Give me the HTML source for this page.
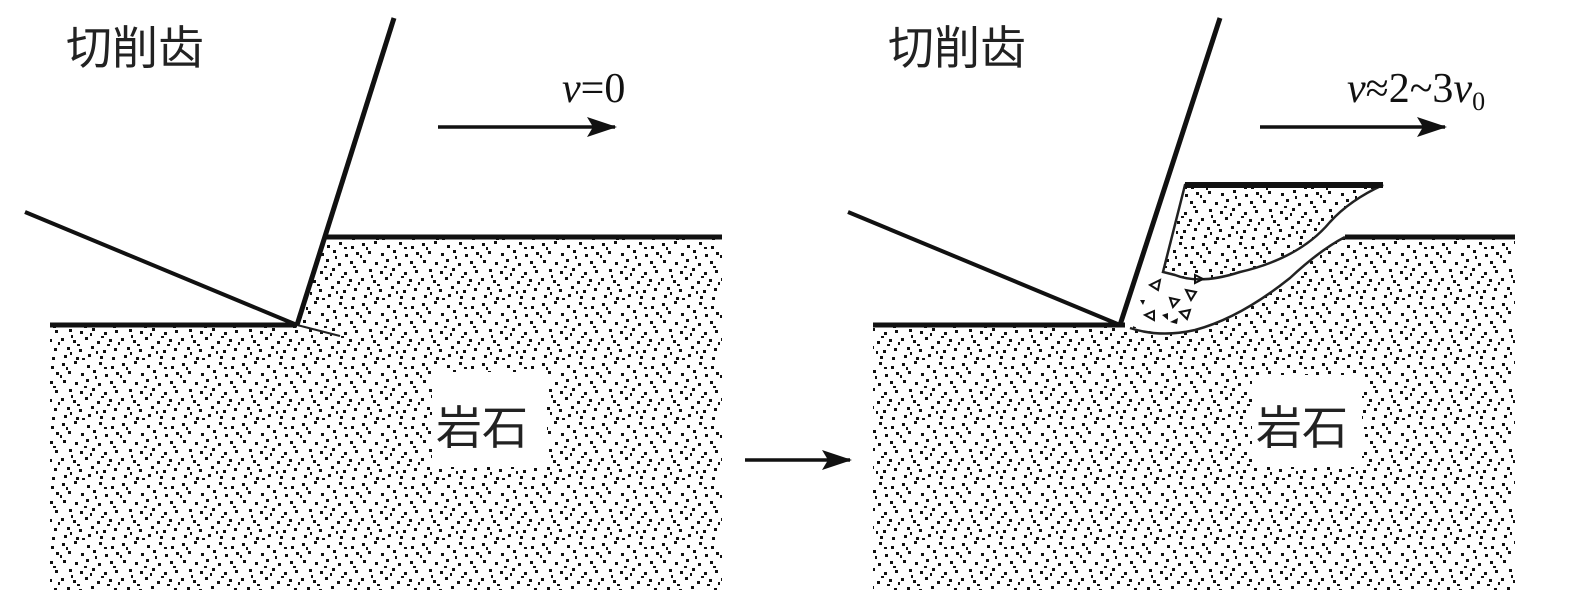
<!DOCTYPE html>
<html><head><meta charset="utf-8"><style>
html,body{margin:0;padding:0;background:#fff;width:1575px;height:600px;overflow:hidden}
svg{display:block}
.cn{font-family:"Liberation Sans","Noto Sans CJK SC",sans-serif;font-size:46px;fill:#222}
.it{font-family:"Liberation Serif",serif;font-size:42px;fill:#111}
</style></head><body>
<svg width="1575" height="600" viewBox="0 0 1575 600" xmlns="http://www.w3.org/2000/svg">
<defs>
<pattern id="d" width="60" height="60" patternUnits="userSpaceOnUse">
<g fill="#111">
<rect x="2" y="3" width="3" height="3"/><rect x="14" y="1" width="3" height="3"/><rect x="27" y="5" width="3" height="3"/><rect x="39" y="2" width="3" height="3"/><rect x="51" y="6" width="3" height="3"/>
<rect x="8" y="11" width="3" height="3"/><rect x="21" y="13" width="3" height="3"/><rect x="33" y="10" width="3" height="3"/><rect x="45" y="14" width="3" height="3"/><rect x="56" y="12" width="3" height="3"/>
<rect x="3" y="20" width="3" height="3"/><rect x="15" y="22" width="3" height="3"/><rect x="26" y="19" width="3" height="3"/><rect x="38" y="23" width="3" height="3"/><rect x="50" y="21" width="3" height="3"/>
<rect x="9" y="29" width="3" height="3"/><rect x="20" y="31" width="3" height="3"/><rect x="32" y="28" width="3" height="3"/><rect x="44" y="32" width="3" height="3"/><rect x="55" y="30" width="3" height="3"/>
<rect x="1" y="38" width="3" height="3"/><rect x="13" y="40" width="3" height="3"/><rect x="25" y="37" width="3" height="3"/><rect x="37" y="41" width="3" height="3"/><rect x="49" y="39" width="3" height="3"/>
<rect x="7" y="47" width="3" height="3"/><rect x="19" y="49" width="3" height="3"/><rect x="31" y="46" width="3" height="3"/><rect x="43" y="50" width="3" height="3"/><rect x="54" y="48" width="3" height="3"/>
<rect x="4" y="55" width="3" height="3"/><rect x="16" y="57" width="3" height="3"/><rect x="28" y="54" width="3" height="3"/><rect x="40" y="56" width="3" height="3"/><rect x="52" y="57" width="3" height="3"/>
<rect x="24" y="26" width="3" height="2"/><rect x="11" y="35" width="2" height="3"/><rect x="47" y="44" width="3" height="2"/><rect x="35" y="16" width="2" height="3"/><rect x="58" y="42" width="2" height="3"/>
<rect x="6" y="7" width="2" height="3"/><rect x="44" y="7" width="3" height="2"/><rect x="30" y="33" width="2" height="3"/><rect x="17" y="44" width="3" height="2"/><rect x="36" y="51" width="2" height="3"/>
<rect x="53" y="26" width="3" height="2"/><rect x="22" y="58" width="3" height="2"/><rect x="0" y="15" width="2" height="3"/><rect x="41" y="36" width="3" height="2"/><rect x="10" y="52" width="2" height="3"/>
</g></pattern>
<marker id="ar" markerWidth="30" markerHeight="22" refX="28" refY="11" orient="auto" markerUnits="userSpaceOnUse"><path d="M0,1 L30,11 L0,21 L6,11 Z" fill="#111"/></marker>
</defs>

<!-- LEFT -->
<path d="M50,325 L297,325 L325,237 L722,237 L722,590 L50,590 Z" fill="url(#d)"/>
<rect x="432" y="372" width="115" height="95" fill="#fff"/>
<text class="cn" x="436" y="444">岩石</text>
<path d="M297,325 L340,336" stroke="#222" stroke-width="2" fill="none"/>
<line x1="50" y1="325" x2="297" y2="325" stroke="#111" stroke-width="5"/>
<line x1="325" y1="237" x2="722" y2="237" stroke="#111" stroke-width="5"/>
<line x1="25" y1="212" x2="297" y2="325" stroke="#111" stroke-width="4"/>
<line x1="297" y1="325" x2="394" y2="18" stroke="#111" stroke-width="5"/>
<text class="cn" x="66" y="64">切削齿</text>
<text class="it" x="562" y="102"><tspan font-style="italic">v</tspan>=0</text>
<line x1="438" y1="127" x2="615" y2="127" stroke="#111" stroke-width="3.5" marker-end="url(#ar)"/>

<!-- middle arrow -->
<line x1="745" y1="460" x2="850" y2="460" stroke="#111" stroke-width="3.5" marker-end="url(#ar)"/>

<!-- RIGHT -->
<path d="M873,325 L1130,325 Q1160,338 1195,330 Q1240,318 1290,278 Q1320,250 1345,237 L1515,237 L1515,590 L873,590 Z" fill="url(#d)"/>
<path d="M1185,185 L1383,185 Q1350,200 1330,222 Q1300,258 1240,272 Q1200,285 1175,275 L1163,272 Z" fill="url(#d)" stroke="#222" stroke-width="2.5"/>
<path d="M1130,328 Q1160,338 1195,330 Q1240,318 1290,278 Q1320,250 1345,237" fill="none" stroke="#222" stroke-width="2.5"/>
<g fill="none" stroke="#111" stroke-width="2">
<path d="M1150,285 l10,-5 l-2,10 z"/><path d="M1170,298 l9,2 l-6,7 z"/><path d="M1145,315 l9,-4 l0,9 z"/><path d="M1186,290 l10,2 l-5,8 z"/><path d="M1180,312 l10,-2 l-3,9 z"/><path d="M1195,275 l8,4 l-8,4 z"/>
</g>
<g fill="#111"><path d="M1162,315 l6,-2 l0,7 z"/><path d="M1140,300 l5,0 l-2,5 z"/><path d="M1170,322 l8,-4 l-1,6 z"/></g>
<rect x="1252" y="375" width="110" height="92" fill="#fff"/>
<text class="cn" x="1256" y="444">岩石</text>
<line x1="873" y1="325" x2="1125" y2="325" stroke="#111" stroke-width="5"/>
<line x1="1345" y1="237" x2="1515" y2="237" stroke="#111" stroke-width="5"/>
<line x1="1185" y1="185" x2="1383" y2="185" stroke="#111" stroke-width="6"/>
<line x1="848" y1="212" x2="1120" y2="325" stroke="#111" stroke-width="4"/>
<line x1="1120" y1="325" x2="1220" y2="18" stroke="#111" stroke-width="5"/>
<text class="cn" x="888" y="64">切削齿</text>
<text class="it" x="1347" y="102"><tspan font-style="italic">v</tspan>≈2~3<tspan font-style="italic">v</tspan><tspan font-size="26" dy="8">0</tspan></text>
<line x1="1260" y1="127" x2="1445" y2="127" stroke="#111" stroke-width="3.5" marker-end="url(#ar)"/>
</svg>
</body></html>
